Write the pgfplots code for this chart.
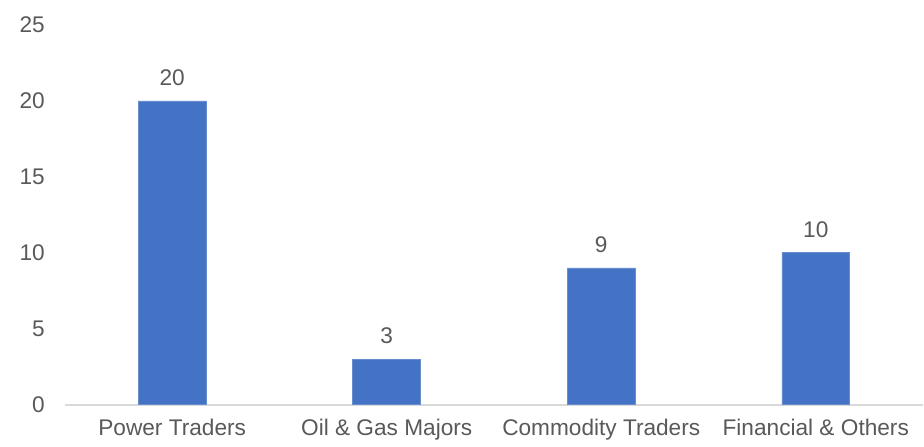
\documentclass[border=0pt]{standalone}
\usepackage{pgfplots}
\pgfplotsset{compat=1.18}
\usepackage{fontspec}
\setmainfont{Liberation Sans}
\definecolor{barblue}{HTML}{4472C4}
\definecolor{txtgray}{HTML}{595959}
\definecolor{axgray}{HTML}{D9D9D9}
\newcommand{\tfont}{\fontsize{17}{20}\selectfont}
\begin{document}
\begin{tikzpicture}
\begin{axis}[
  scale only axis,
  width=644.25pt, height=285pt,
  ybar, bar width=51pt,
  xmin=-0.5, xmax=3.5,
  ymin=0, ymax=25,
  ytick={0,5,10,15,20,25},
  xtick=data,
  xticklabels={Power Traders, Oil \& Gas Majors, Commodity Traders, Financial \& Others},
  axis y line=none,
  axis x line*=bottom,
  x axis line style={axgray, line width=1.5pt, -},
  major tick length=0pt,
  every tick label/.style={font=\tfont, text=txtgray},
  /pgf/number format/assume math mode=true,
  x tick label style={inner sep=0pt, anchor=north, yshift=-11pt},
  clip=false,
  nodes near coords,
  every node near coord/.append style={font=\tfont, text=txtgray, inner sep=0pt, anchor=south, yshift=11pt},
]
\addplot[fill=barblue, draw=barblue!80!white] coordinates {(0,20) (1,3) (2,9) (3,10)};
\end{axis}
\foreach \v/\y in {0/0,5/57,10/114,15/171,20/228,25/285} {
  \node[anchor=east, inner sep=0pt, text=txtgray, font=\tfont] at (-15pt,\y pt) {\v};
}
\path (-48.75pt,-31.5pt) (644.25pt,303.75pt);
\end{tikzpicture}
\end{document}
